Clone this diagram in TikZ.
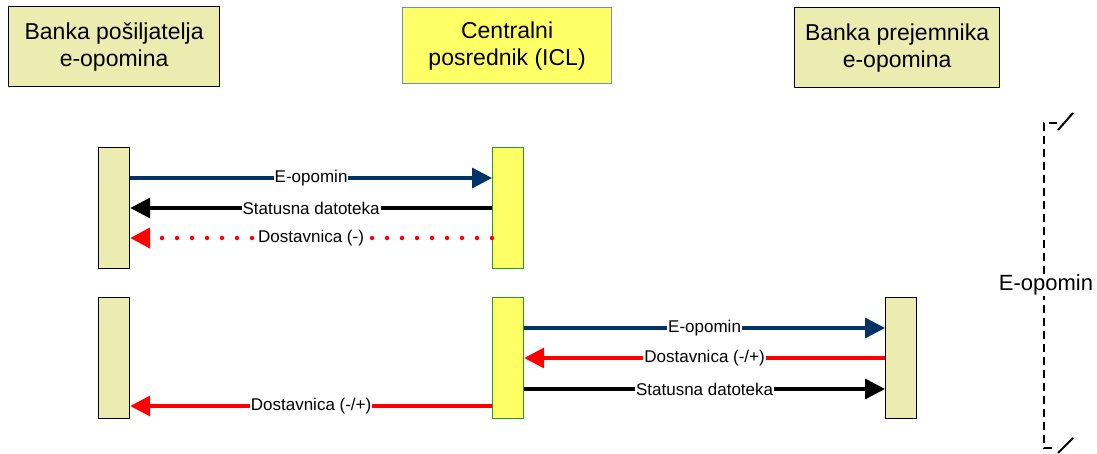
\documentclass[tikz,border=0pt]{standalone}
\usepackage{fontspec}
\setmainfont{Liberation Sans}
\usetikzlibrary{arrows.meta}

\definecolor{boxpale}{RGB}{236,236,176}
\definecolor{iclyellow}{RGB}{255,255,102}
\definecolor{iclborder}{RGB}{110,140,195}
\definecolor{barborder}{RGB}{40,150,40}
\definecolor{navymsg}{RGB}{0,51,102}

\tikzset{
  party/.style={draw=black, line width=1.2pt, fill=boxpale, anchor=north west, inner sep=0pt, align=center, font=\fontsize{23}{27}\selectfont},
  bankbar/.style={draw=black, line width=1.2pt, fill=boxpale, anchor=north west, minimum width=31pt, minimum height=121pt, inner sep=0pt},
  iclbar/.style={draw=barborder, line width=1.2pt, fill=iclyellow, anchor=north west, minimum width=31pt, minimum height=121pt, inner sep=0pt},
  msg/.style={line width=3.5pt, -{Triangle[length=20pt,width=20pt]}},
  msglabel/.style={fill=white, inner sep=1pt, font=\fontsize{17}{20}\selectfont, midway}
}

\begin{document}
\begin{tikzpicture}[x=1pt,y=-1pt]

\useasboundingbox (0,0) rectangle (1097,454);

\node[party, minimum width=211pt, minimum height=80pt] (posiljatelj) at (8,6) {Banka pošiljatelja\\e-opomina};
\node[party, draw=iclborder, fill=iclyellow, minimum width=209pt, minimum height=76pt] (icl) at (402,7) {Centralni\\posrednik (ICL)};
\node[party, minimum width=205pt, minimum height=80pt] (prejemnik) at (794,7) {Banka prejemnika\\e-opomina};

\node[bankbar] (pa) at (98,147) {};
\node[iclbar] (ia) at (492,147) {};
\node[bankbar] (pb) at (98,297) {};
\node[iclbar] (ib) at (492,297) {};
\node[bankbar] (rb) at (885,297) {};

\draw [msg, navymsg] (pa.east |- 0,178) -- (ia.west |- 0,178) node[msglabel, text=black] {E-opomin};
\draw [msg, black] (ia.west |- 0,208) -- (pa.east |- 0,208) node[msglabel] {Statusna datoteka};
\draw [msg, red, line width=4.5pt, line cap=round, dash pattern=on 0pt off 15pt] (ia.west |- 0,238) -- (pa.east |- 0,238) node[msglabel, text=black] {Dostavnica (-)};

\draw [msg, navymsg] (ib.east |- 0,328) -- (rb.west |- 0,328) node[msglabel, text=black] {E-opomin};
\draw [msg, red] (rb.west |- 0,358) -- (ib.east |- 0,358) node[msglabel, text=black] {Dostavnica (-/+)};
\draw [msg, black] (ib.east |- 0,389) -- (rb.west |- 0,389) node[msglabel] {Statusna datoteka};
\draw [msg, red] (ib.west |- 0,406) -- (pb.east |- 0,406) node[msglabel, text=black] {Dostavnica (-/+)};

\coordinate (bt) at (1057,123);
\coordinate (bb) at (1057,448);
\draw [black, line width=2pt, dash pattern=on 8pt off 5pt] (bt) -- (1044,123) -- (1044,448) -- (bb);
\draw [black, line width=2pt] ([shift={(1,7)}]bt) -- ([shift={(16,-10)}]bt);
\draw [black, line width=2pt] ([shift={(1,5)}]bb) -- ([shift={(16,-10)}]bb);
\node[fill=white, inner sep=1pt, font=\fontsize{22}{26}\selectfont] (opomin) at (1046,285) {E-opomin};

\end{tikzpicture}
\end{document}
